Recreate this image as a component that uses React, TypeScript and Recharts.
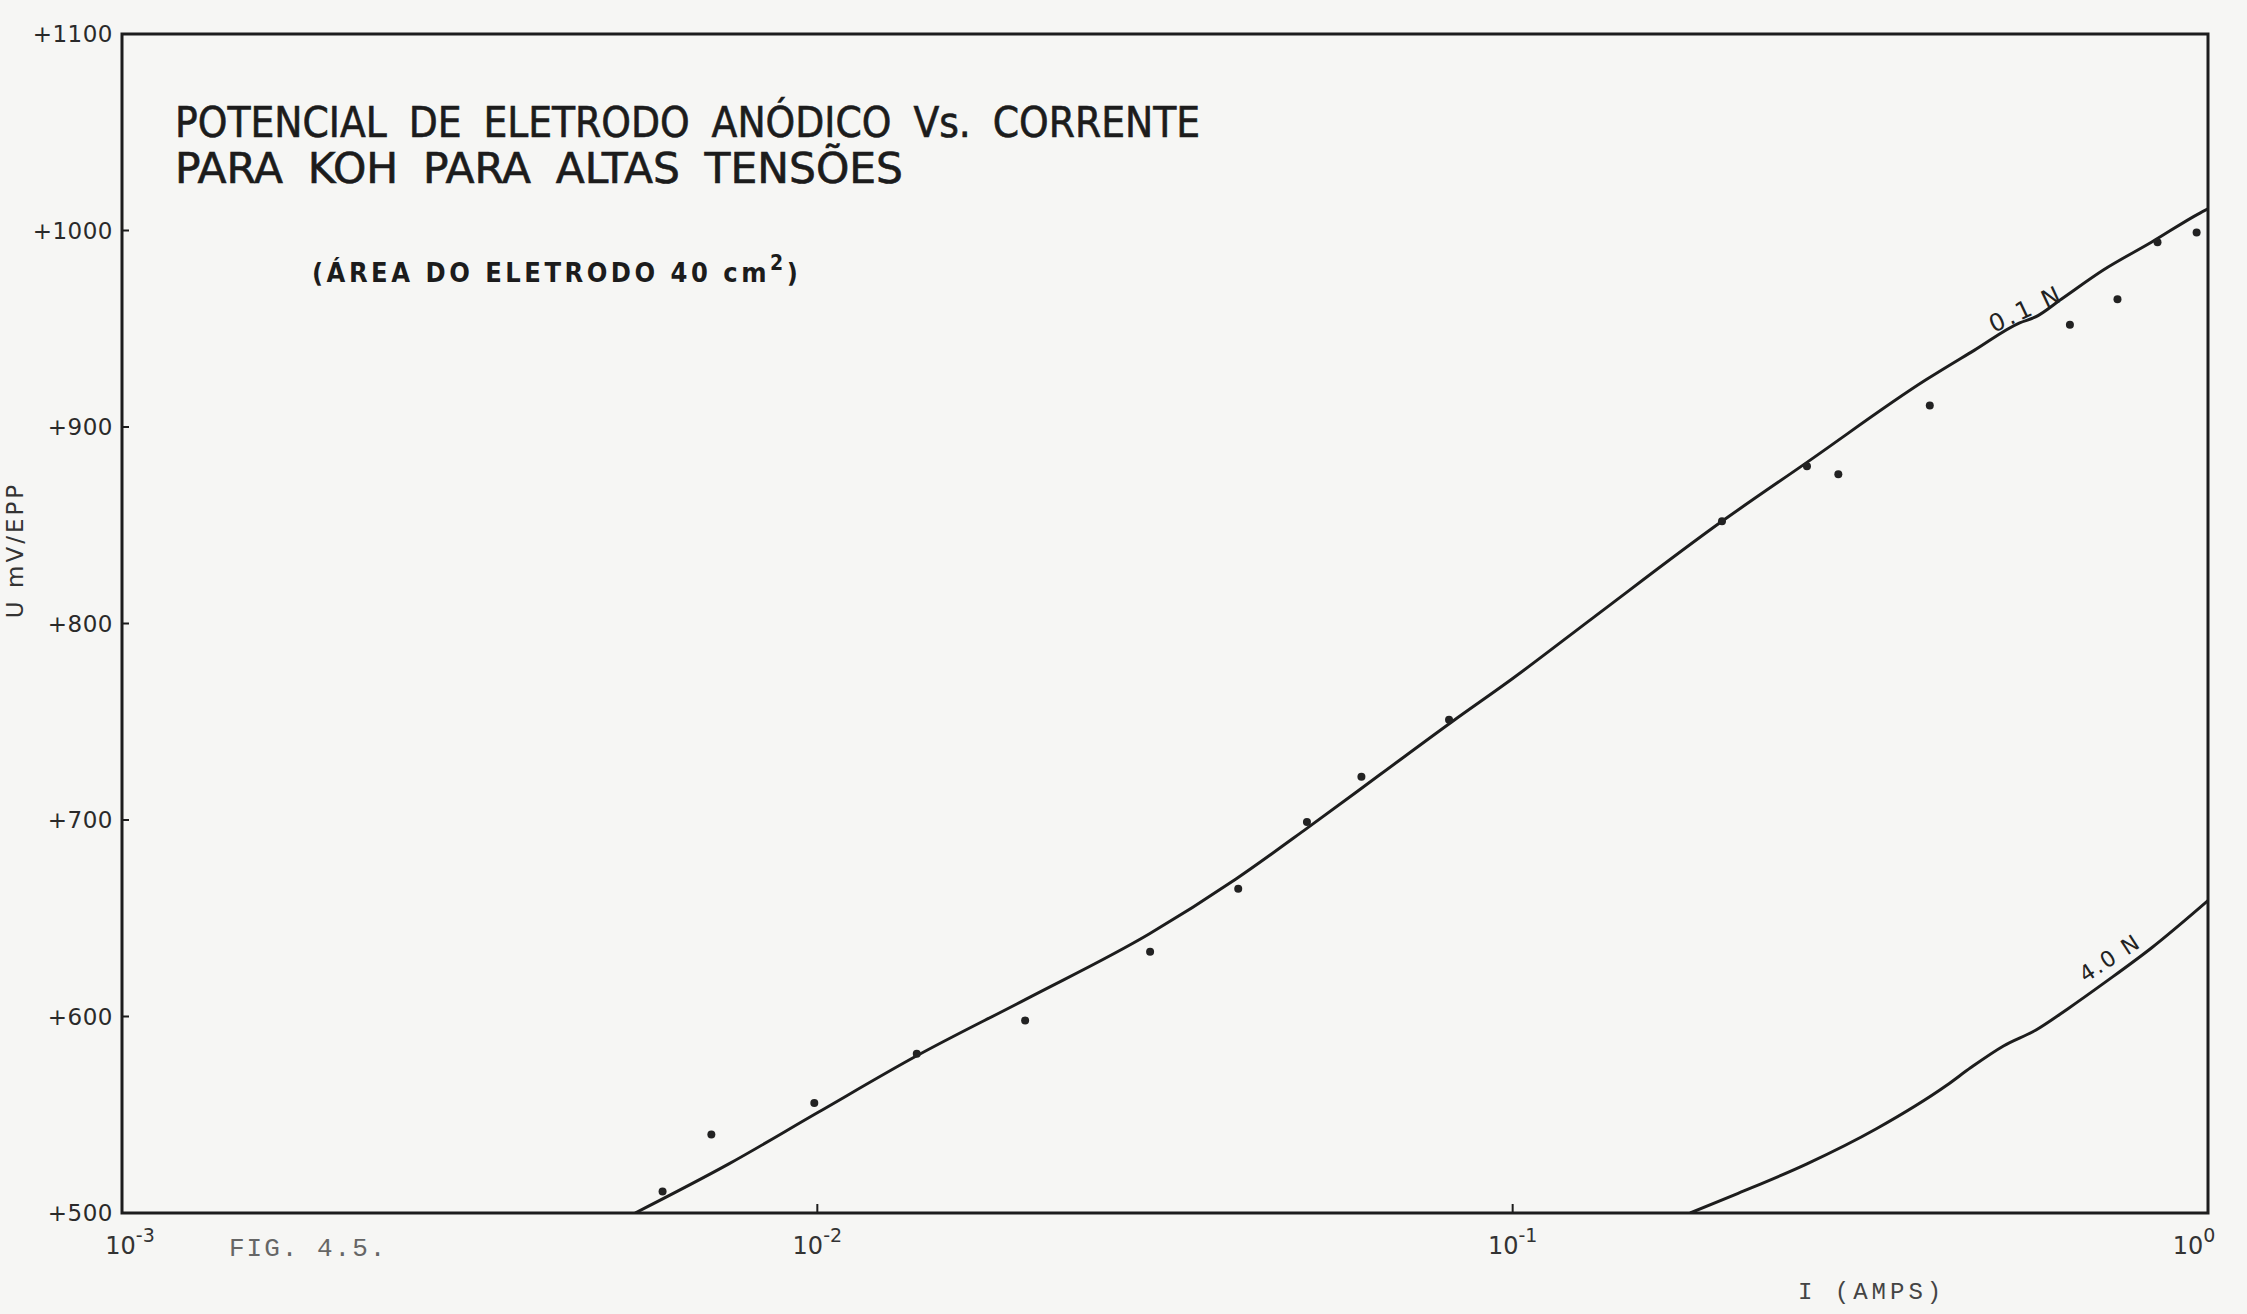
import React from "react";
import { ComposedChart, Line, Scatter, XAxis, YAxis, ReferenceArea } from "recharts";

const W = 2247;
const H = 1314;

const yTicks = [500, 600, 700, 800, 900, 1000, 1100];
const xTicks = [0.001, 0.01, 0.1, 1];
const xTickExp = ["-3", "-2", "-1", "0"];

// 0.1 N curve (as drawn)
const curve01Amps = [0.00547, 0.00746, 0.01, 0.0139, 0.02, 0.03, 0.04, 0.0507, 0.0644, 0.0818, 0.1, 0.1306, 0.2, 0.265, 0.393, 0.461, 0.536, 0.565, 0.615, 0.708, 0.829, 0.975, 1];
const curve01Mv = [500, 525, 551, 580, 609, 642, 670, 696, 723, 750, 772, 803, 852, 882, 924, 939, 953, 956, 965, 980, 994, 1009, 1011];

// 4.0 N curve (as drawn)
const curve40Amps = [0.18, 0.211, 0.265, 0.334, 0.421, 0.456, 0.508, 0.565, 0.629, 0.715, 0.83, 1];
const curve40Mv = [500, 510, 525, 543, 565, 574, 585, 593, 604, 618, 635, 659];

// measured points
const pointAmps = [0.00599, 0.00704, 0.0099, 0.0139, 0.0199, 0.0301, 0.0403, 0.0506, 0.0606, 0.081, 0.2, 0.265, 0.294, 0.398, 0.633, 0.741, 0.846, 0.963];
const pointMv = [511, 540, 556, 581, 598, 633, 665, 699, 722, 751, 852, 880, 876, 911, 952, 965, 994, 999];

const curve01 = curve01Amps.map((i, k) => ({ i, mv: curve01Mv[k] }));
const curve40 = curve40Amps.map((i, k) => ({ i, mv: curve40Mv[k] }));
const points = pointAmps.map((i, k) => ({ i, mv: pointMv[k] }));

const ink = "#1d1d1d";
const letter = "'DejaVu Sans', sans-serif";
const narrow = "'Liberation Sans Narrow','DejaVu Sans Condensed',sans-serif";
const mono = "'Liberation Mono','DejaVu Sans Mono',monospace";

const YTick = (props: any) => {
  const { x, y, payload } = props;
  return (
    <g>
      <line x1={x} y1={y} x2={x + 7} y2={y} stroke={ink} strokeWidth={2} />
      <text x={x - 9} y={y} textAnchor="end" dominantBaseline="central" fontFamily={letter} fontSize={23} letterSpacing={0.5} fill="#2a2a2a">
        {"+" + payload.value}
      </text>
    </g>
  );
};

const XTick = (props: any) => {
  const { x, y, payload, index } = props;
  const edge = payload.value === 0.001 || payload.value === 1;
  const dx = payload.value === 0.001 ? 8 : payload.value === 1 ? -14 : 0;
  return (
    <g>
      {!edge && <line x1={x} y1={y} x2={x} y2={y - 9} stroke={ink} strokeWidth={2} />}
      <text x={x + dx} y={y + 41} textAnchor="middle" fontFamily={letter} fontSize={24} fill="#333">
        10
        <tspan dy={-12} fontSize={19}>{xTickExp[index]}</tspan>
      </text>
    </g>
  );
};

export default function App() {
  return (
    <div style={{ position: "absolute", left: 0, top: 0, width: W, height: H, background: "#f6f6f4", overflow: "hidden" }}>
      <ComposedChart width={W} height={H} margin={{ top: 34, right: 39, bottom: 0, left: 0 }}>
        <XAxis
          dataKey="i"
          type="number"
          scale="log"
          domain={[0.001, 1]}
          ticks={xTicks}
          allowDataOverflow
          axisLine={false}
          tickLine={false}
          tickSize={0}
          tickMargin={0}
          height={101}
          tick={<XTick />}
          interval={0}
        />
        <YAxis
          dataKey="mv"
          type="number"
          domain={[500, 1100]}
          ticks={yTicks}
          allowDataOverflow
          axisLine={false}
          tickLine={false}
          tickSize={0}
          tickMargin={0}
          width={122}
          tick={<YTick />}
          interval={0}
        />
        <ReferenceArea x1={0.001} x2={1} y1={500} y2={1100} fill="none" stroke={ink} strokeWidth={3} ifOverflow="visible" />
        <Line data={curve01} dataKey="mv" type="monotone" stroke={ink} strokeWidth={3} dot={false} isAnimationActive={false} />
        <Line data={curve40} dataKey="mv" type="monotone" stroke={ink} strokeWidth={3} dot={false} isAnimationActive={false} />
        <Scatter
          data={points}
          dataKey="mv"
          isAnimationActive={false}
          shape={(p: any) => <circle cx={p.cx} cy={p.cy} r={4} fill="#222" />}
        />
      </ComposedChart>

      <svg width={W} height={H} style={{ position: "absolute", left: 0, top: 0, pointerEvents: "none" }}>
        <text x={175} y={137} textLength={1025} lengthAdjust="spacingAndGlyphs" fontFamily={narrow} fontSize={42} fill="#1c1c1c" stroke="#1c1c1c" strokeWidth={0.6} style={{ wordSpacing: 10 }}>
          POTENCIAL DE ELETRODO ANÓDICO Vs. CORRENTE
        </text>
        <text x={175} y={183} textLength={728} lengthAdjust="spacingAndGlyphs" fontFamily={narrow} fontSize={42} fill="#1c1c1c" stroke="#1c1c1c" strokeWidth={0.6} style={{ wordSpacing: 10 }}>
          PARA KOH PARA ALTAS TENSÕES
        </text>
        <text x={312} y={282} fontFamily="'DejaVu Sans Condensed','DejaVu Sans',sans-serif" fontWeight="bold" fontSize={27} letterSpacing={3.5} fill="#1c1c1c">
          (ÁREA DO ELETRODO 40 cm<tspan dy={-12} fontSize={21}>2</tspan><tspan dy={12}>)</tspan>
        </text>

        <text x={15} y={550} transform="rotate(-90 15 550)" textAnchor="middle" dominantBaseline="central" fontFamily={letter} fontSize={23} letterSpacing={3} fill="#333">
          U mV/EPP
        </text>

        <text x={229} y={1256} fontFamily={mono} fontSize={26} letterSpacing={2} fill="#666">
          FIG. 4.5.
        </text>
        <text x={1798} y={1299} fontFamily={mono} fontSize={24} letterSpacing={4} fill="#444">
          I (AMPS)
        </text>

        <text x={2026} y={309} transform="rotate(-25 2026 309)" textAnchor="middle" dominantBaseline="central" fontFamily={letter} fontSize={24} letterSpacing={3} fill="#222">
          0.1 N
        </text>
        <text x={2110} y={958} transform="rotate(-33 2110 958)" textAnchor="middle" dominantBaseline="central" fontFamily={letter} fontSize={22} letterSpacing={2} fill="#222">
          4.0 N
        </text>
      </svg>
    </div>
  );
}
